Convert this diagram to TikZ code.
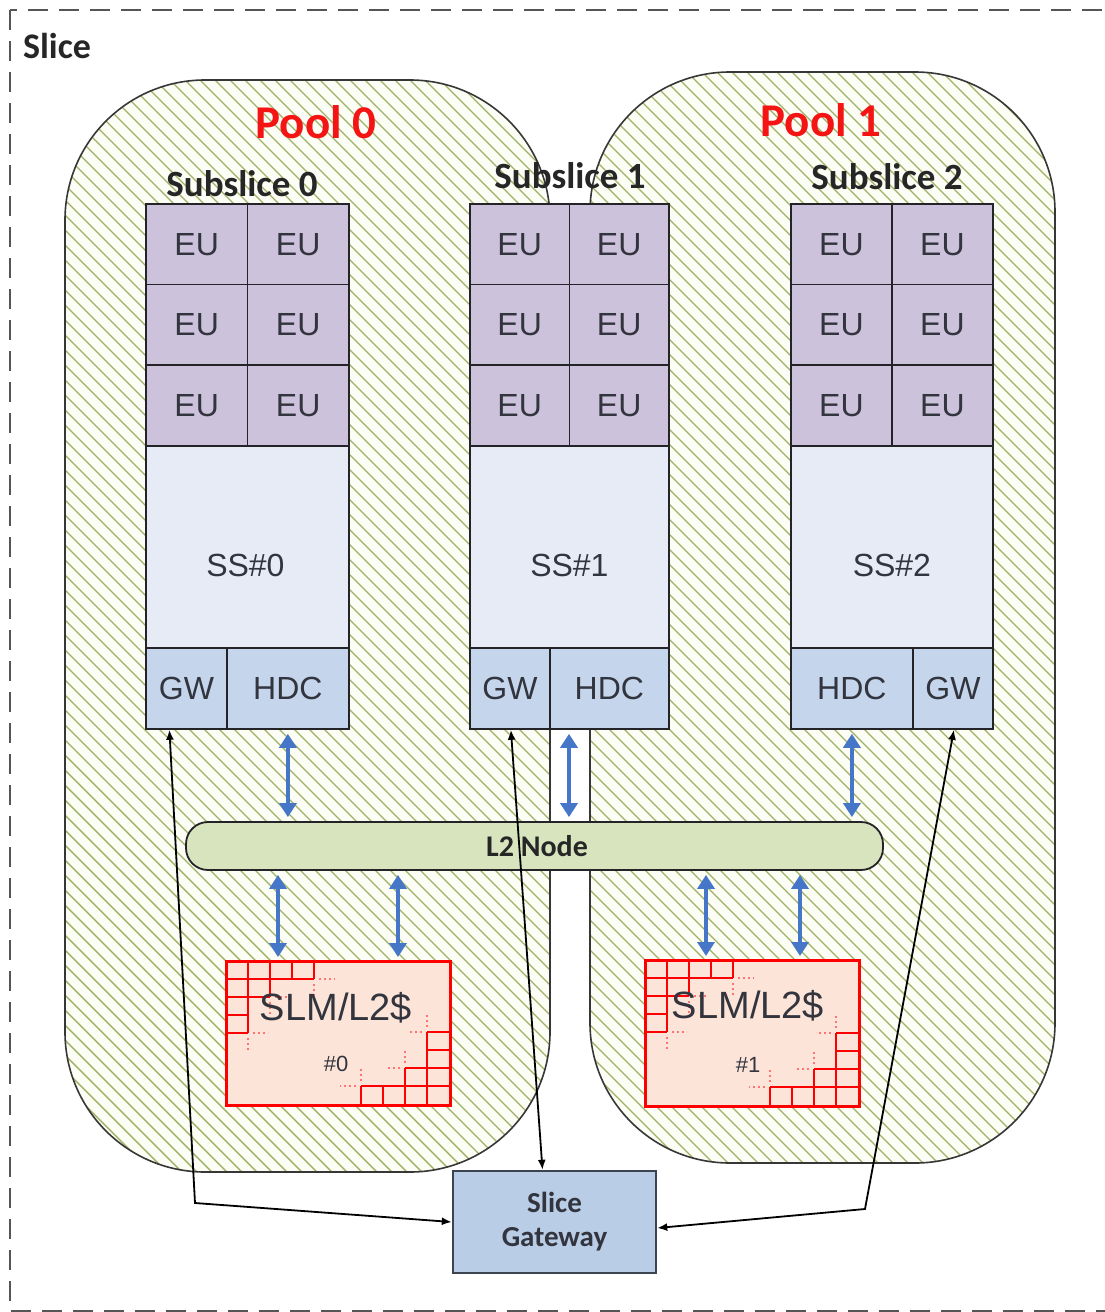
\documentclass[tikz,border=0pt]{standalone}
\usepackage{fontspec}
\setmainfont{Liberation Sans}
\newfontfamily\calib{Carlito}
\usetikzlibrary{arrows.meta,calc}
\definecolor{eucol}{RGB}{205,194,219}
\definecolor{sscol}{RGB}{230,235,245}
\definecolor{gwcol}{RGB}{197,214,236}
\definecolor{l2col}{RGB}{216,228,190}
\definecolor{slmcol}{RGB}{252,229,216}
\definecolor{hatch}{RGB}{158,178,102}
\definecolor{poolbg}{RGB}{252,253,244}
\definecolor{bluea}{RGB}{70,118,200}
\definecolor{txt}{RGB}{50,52,62}
\definecolor{edge}{RGB}{35,35,40}
\definecolor{gatecol}{RGB}{186,205,230}
\definecolor{gateedge}{RGB}{60,68,82}
\definecolor{slicecol}{RGB}{85,85,85}
\definecolor{poolred}{RGB}{245,20,20}
\definecolor{poolline}{RGB}{55,55,55}
\tikzset{
  cell/.style={draw=edge, line width=1.8pt, inner sep=0pt, text=txt,
    font=\fontsize{32}{38}\selectfont, anchor=north west},
  eucell/.style={cell, fill=eucol, minimum height=80.7pt},
  sscell/.style={cell, fill=sscol, minimum height=202pt},
  gwcell/.style={cell, fill=gwcol, minimum height=81pt},
  celltext/.style={text=txt, font=\fontsize{32}{38}\selectfont, inner sep=0pt},
  hatchline/.style={draw=hatch, line width=1.4pt},
  poollabel/.style={text=poolred, font=\calib\bfseries\fontsize{47}{56}\selectfont, inner sep=0pt},
  sublabel/.style={text=black!85, font=\calib\bfseries\fontsize{37}{44}\selectfont, inner sep=0pt},
  bluearr/.style={draw=bluea, line width=4pt, shorten <=4pt, shorten >=4pt,
    arrows={Triangle[width=17pt,length=14pt]-Triangle[width=17pt,length=14pt]}},
  conn/.style={draw=black, line width=1.8pt,
    arrows={Latex[length=10pt,width=8pt]-Latex[length=10pt,width=8pt]}},
  slmbox/.style={draw=red, line width=2pt, fill=slmcol, anchor=north west, inner sep=0pt},
  slmgrid/.style={draw=red, line width=2pt},
  slmdots/.style={draw=red!55, line width=2pt, dash pattern=on 2pt off 3pt},
  slmtext/.style={text=txt, inner sep=0pt}
}
\newcommand\slmcorner{%
  \draw[slmgrid] (0,18)--(88,18) (0,36)--(44,36) (0,54)--(22,54) (0,72)--(22,72);
  \draw[slmgrid] (22,0)--(22,72) (44,0)--(44,36) (66,0)--(66,18) (88,0)--(88,18);
  \draw[slmdots] (93,18)--(109,18) (88,23)--(88,35) (49,36)--(63,36)
                 (44,41)--(44,54) (27,72)--(42,72) (22,77)--(22,89);
}
\newcommand\poolshape[4]{%
  \fill[poolbg, rounded corners=140pt] (#1,#2) rectangle (#3,#4);
  \begin{scope}
    \clip[rounded corners=140pt] (#1,#2) rectangle (#3,#4);
    \foreach \k in {0,...,164}{
      \draw[hatchline] ({-1320+15*\k},0) -- ({15*\k},1320);
    }
  \end{scope}
  \draw[draw=poolline, line width=1.6pt, rounded corners=140pt] (#1,#2) rectangle (#3,#4);
}
\begin{document}
\begin{tikzpicture}[x=1pt,y=-1pt]
\useasboundingbox (0,0) rectangle (1105,1312);
\fill[white] (0,0) rectangle (1105,1312);
% slice border
\draw[draw=slicecol, line width=2.4pt, dash pattern=on 20pt off 11pt] (10,10) rectangle (1115,1311);
\node[font=\calib\bfseries\fontsize{36}{42}\selectfont, text=black!85, inner sep=0pt] (slicelbl) at (57,46) {Slice};
% pools
\poolshape{65}{80}{550}{1172}
\poolshape{590}{72}{1055}{1163}
\node[poollabel] (pool0) at (316,122) {Pool 0};
\node[poollabel] (pool1) at (821,120) {Pool 1};
% subslice labels
\node[sublabel] (sl0) at (242,184) {Subslice 0};
\node[sublabel] (sl1) at (570,176) {Subslice 1};
\node[sublabel] (sl2) at (887,177) {Subslice 2};
% EU cells
\foreach \i/\xa/\w in {0/145/101.5, 1/469/99.5, 2/790/101}{
  \foreach \r in {0,1,2}{
    \foreach \c in {0,1}{
      \node[eucell, minimum width=\w pt] (eu\i\r\c) at ({\xa+\c*\w},{203+\r*80.67}) {EU};
    }
  }
}
% SS regions
\node[sscell, minimum width=203pt] (ss0) at (145,445) {};
\node[sscell, minimum width=199pt] (ss1) at (469,445) {};
\node[sscell, minimum width=202pt] (ss2) at (790,445) {};
\node[celltext] (ss0t) at ($(ss0.center)+(-2,19)$) {SS\#0};
\node[celltext] (ss1t) at ($(ss1.center)+(0,19)$) {SS\#1};
\node[celltext] (ss2t) at ($(ss2.center)+(0,19)$) {SS\#2};
% GW / HDC
\node[gwcell, minimum width=81pt]  (gw0)  at (145,647) {GW};
\node[gwcell, minimum width=122pt] (hdc0) at (226,647) {HDC};
\node[gwcell, minimum width=80pt]  (gw1)  at (469,647) {GW};
\node[gwcell, minimum width=119pt] (hdc1) at (549,647) {HDC};
\node[gwcell, minimum width=122pt] (hdc2) at (790,647) {HDC};
\node[gwcell, minimum width=80pt]  (gw2)  at (912,647) {GW};
% L2 node
\node[draw=edge, line width=1.8pt, fill=l2col, rounded corners=22pt,
      minimum width=697pt, minimum height=48pt, inner sep=0pt] (l2) at (534.5,846) {};
\node[font=\calib\bfseries\fontsize{30}{36}\selectfont, text=black!85, inner sep=0pt] (l2t) at (537,846) {L2 Node};
% SLM boxes
\node[slmbox, minimum width=223pt, minimum height=143pt] (slm0) at (226,961) {};
\node[slmbox, minimum width=213pt, minimum height=145pt] (slm1) at (645,960) {};
\begin{scope}[shift={(226,961)}]\slmcorner\end{scope}
\begin{scope}[shift={(449,1104)}, rotate=180]\slmcorner\end{scope}
\begin{scope}[shift={(645,960)}]\slmcorner\end{scope}
\begin{scope}[shift={(858,1105)}, rotate=180]\slmcorner\end{scope}
\draw[red, line width=2pt] (slm0.north west) rectangle (slm0.south east);
\draw[red, line width=2pt] (slm1.north west) rectangle (slm1.south east);
\node[slmtext, font=\fontsize{38}{44}\selectfont] (slm0t) at (336,1008) {SLM/L2\$};
\node[slmtext, font=\fontsize{22}{26}\selectfont] (slm0n) at (336,1064) {\#0};
\node[slmtext, font=\fontsize{38}{44}\selectfont] (slm1t) at (748,1006) {SLM/L2\$};
\node[slmtext, font=\fontsize{22}{26}\selectfont] (slm1n) at (748,1065) {\#1};
% slice gateway
\node[draw=gateedge, line width=2.5pt, fill=gatecol, minimum width=203pt, minimum height=102pt,
      inner sep=0pt, align=center, text=txt, font=\calib\bfseries\fontsize{29}{34}\selectfont]
      (gate) at (554.5,1222) {Slice\\Gateway};
% blue arrows
\coordinate (b1) at (569,0);
\coordinate (b3) at (278,0);
\coordinate (b4) at (398,0);
\coordinate (b5) at (706,0);
\coordinate (b6) at (800,0);
\draw[bluearr] (hdc0.south) -- (hdc0.south |- l2.north);
\draw[bluearr] (hdc1.south -| b1) -- (l2.north -| b1);
\draw[bluearr] (hdc2.south) -- (hdc2.south |- l2.north);
\draw[bluearr] (l2.south -| b3) -- (slm0.north -| b3);
\draw[bluearr] (l2.south -| b4) -- (slm0.north -| b4);
\draw[bluearr] (l2.south -| b5) -- (slm1.north -| b5);
\draw[bluearr] (l2.south -| b6) -- (slm1.north -| b6);
% black connectors
\coordinate (k0) at (195,1203);
\coordinate (k2) at (865,1209);
\draw[conn] ($(gw0.south)+(-17,0)$) -- (k0) -- (gate.west);
\draw[conn] ($(gw1.south)+(1,0)$) -- ($(gate.north)+(-12,0)$);
\draw[conn] ($(gw2.south)+(1,0)$) -- (k2) -- ($(gate.east)+(0,6)$);
\end{tikzpicture}
\end{document}
